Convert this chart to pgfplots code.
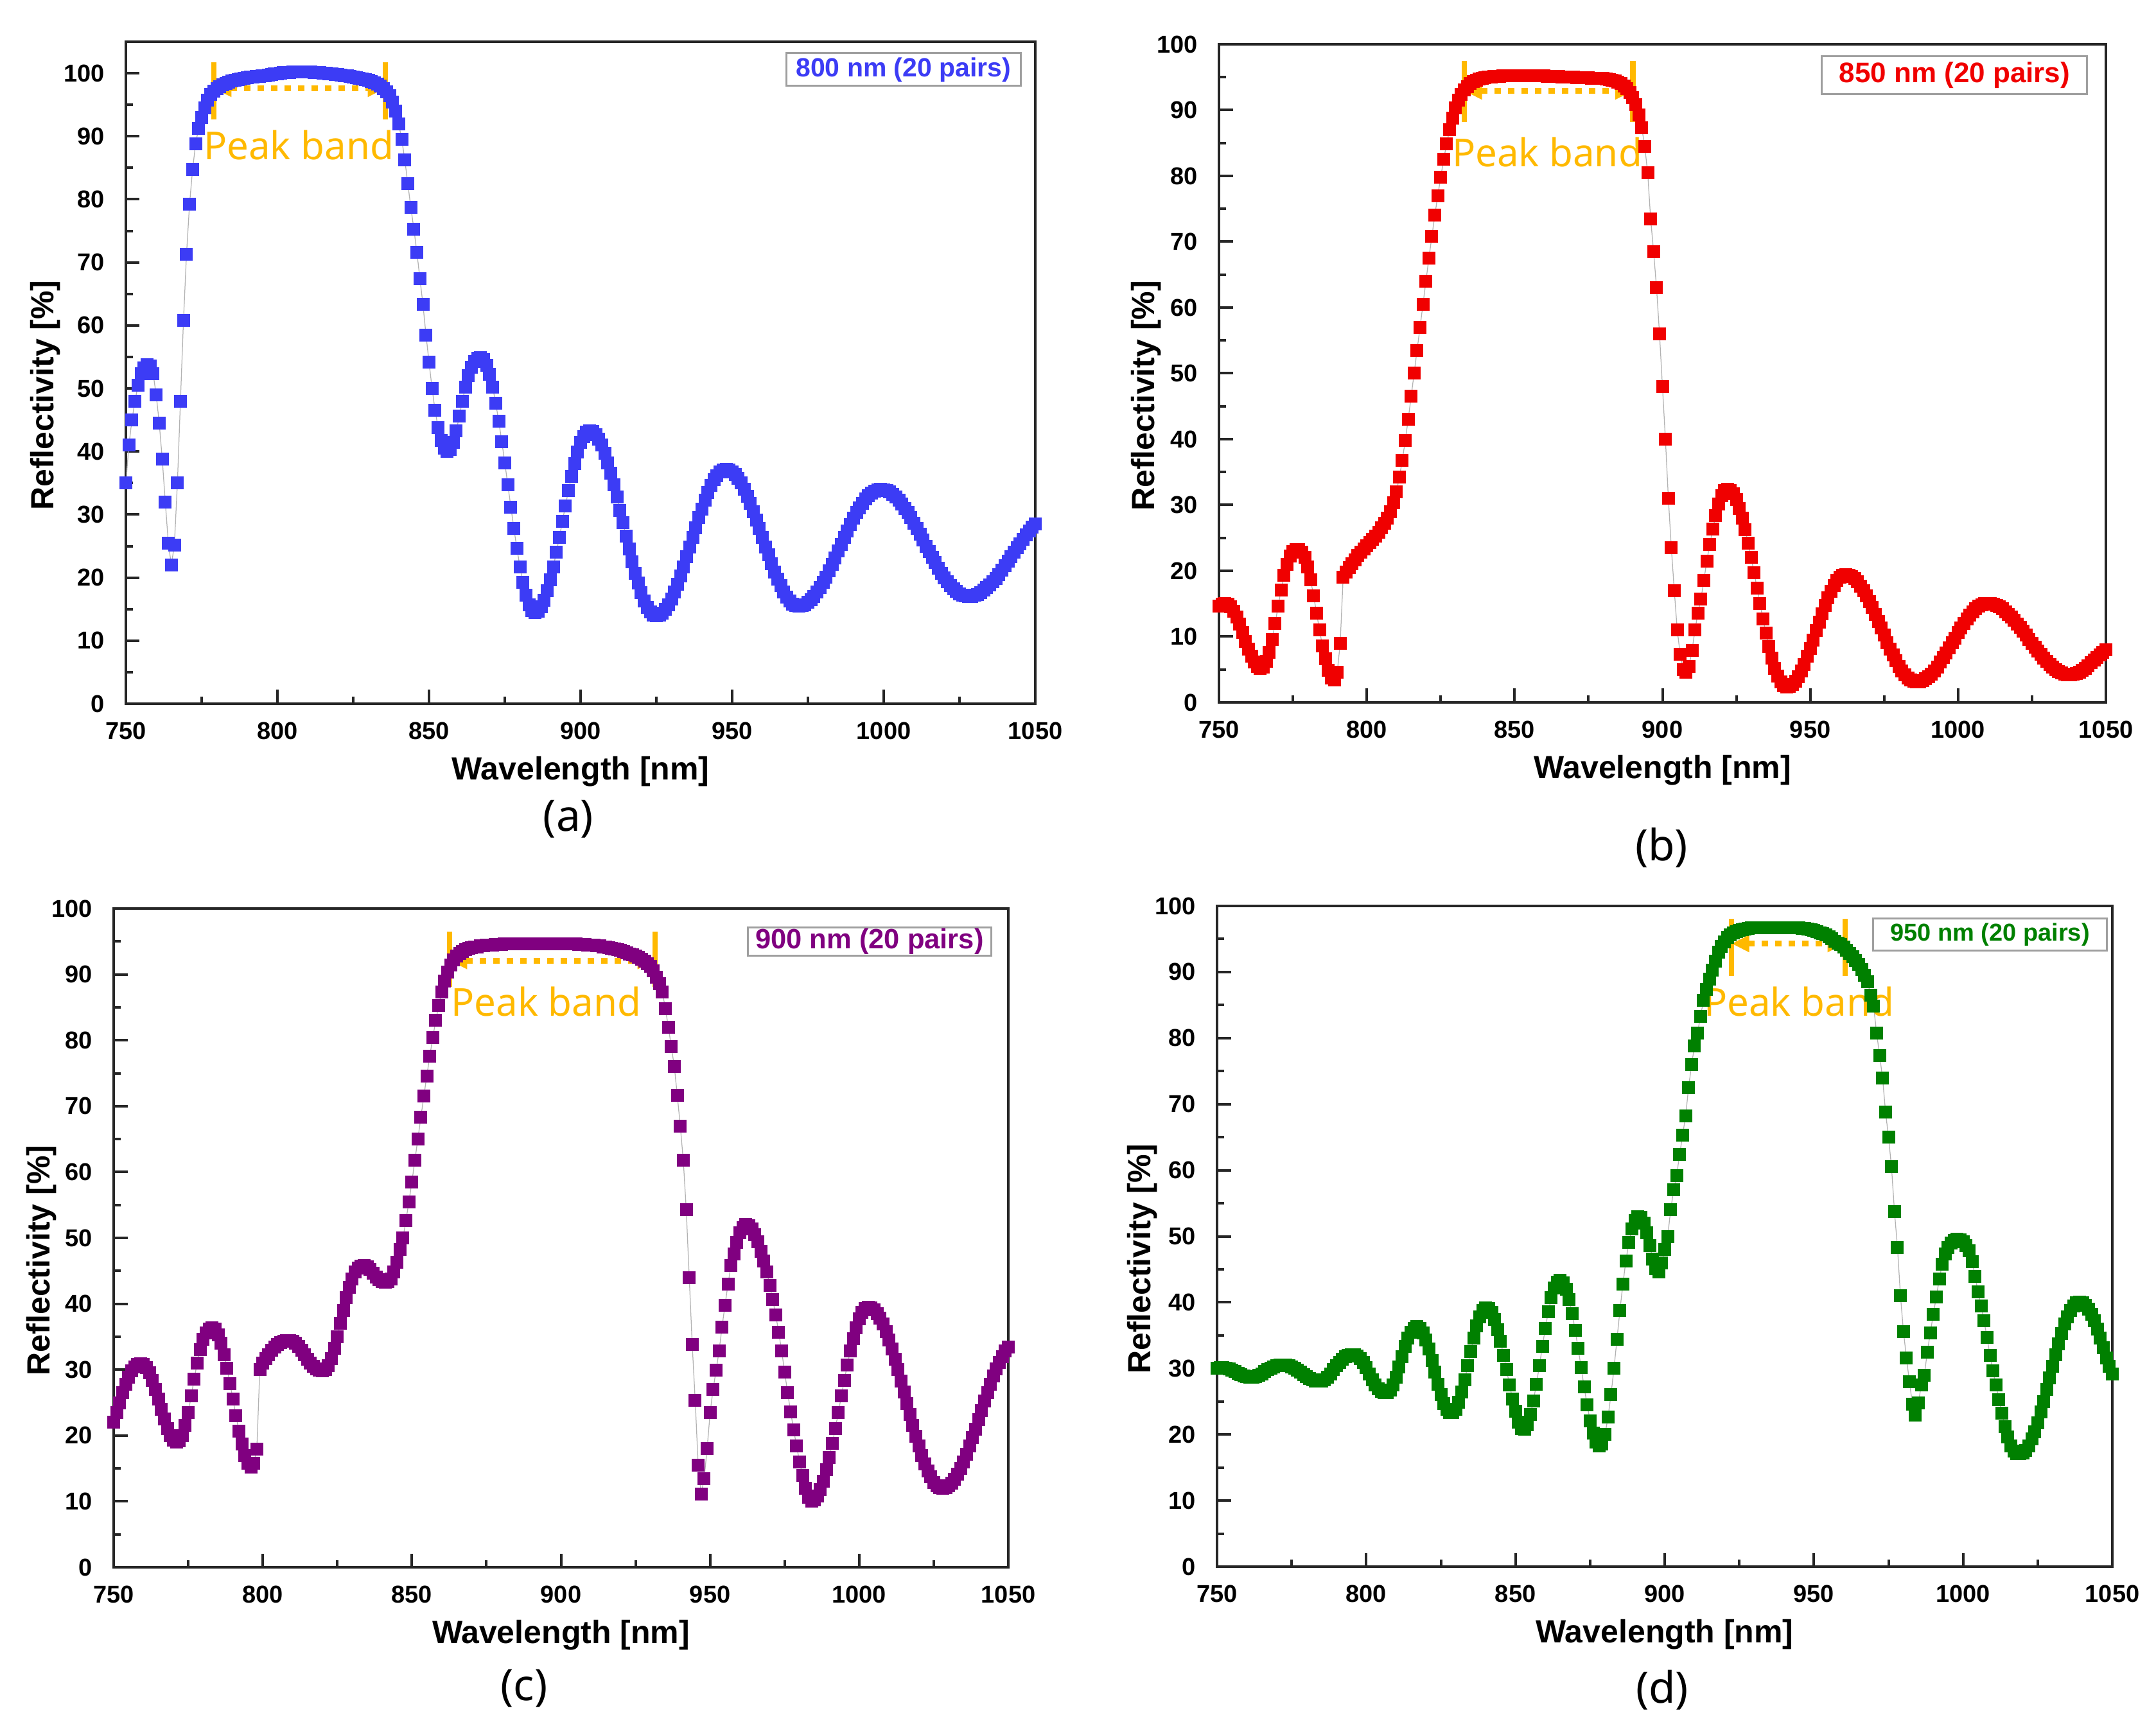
\documentclass[border=0pt]{standalone}
\usepackage{fontspec}
\setmainfont{Liberation Sans}
\newfontfamily\notosans{Noto Sans}
\usepackage{pgfplots}
\usepackage{pgfplotstable}
\pgfplotsset{compat=1.18}
\usetikzlibrary{arrows.meta}

\definecolor{cA}{RGB}{60,60,245}
\definecolor{cB}{RGB}{240,0,0}
\definecolor{cC}{RGB}{128,0,128}
\definecolor{cD}{RGB}{0,128,0}
\definecolor{peak}{RGB}{255,185,0}

% 800 nm (20 pairs)
\pgfplotstableread[row sep=\\]{x y\\
750 35.0\\751 41.0\\752 45.0\\753 48.0\\754 50.5\\755 52.3\\756 53.3\\757 53.8\\758 53.6\\759 52.3\\
760 49.0\\761 44.5\\762 38.8\\763 32.0\\764 25.5\\765 22.0\\766 25.2\\767 35.0\\768 48.0\\769 60.8\\
770 71.3\\771 79.2\\772 84.7\\773 88.8\\774 91.3\\775 93.0\\776 94.5\\777 95.7\\778 96.6\\779 97.2\\
780 97.6\\781 97.9\\782 98.2\\783 98.4\\784 98.6\\785 98.8\\786 98.9\\787 99.0\\788 99.1\\789 99.2\\
790 99.3\\791 99.4\\792 99.4\\793 99.5\\794 99.5\\795 99.6\\796 99.6\\797 99.7\\798 99.8\\799 99.9\\
800 99.9\\801 100.0\\802 100.1\\803 100.1\\804 100.1\\805 100.2\\806 100.2\\807 100.2\\808 100.2\\809 100.2\\
810 100.2\\811 100.2\\812 100.1\\813 100.1\\814 100.1\\815 100.0\\816 100.0\\817 99.9\\818 99.9\\819 99.8\\
820 99.8\\821 99.7\\822 99.6\\823 99.6\\824 99.5\\825 99.4\\826 99.3\\827 99.2\\828 99.1\\829 99.0\\
830 98.9\\831 98.7\\832 98.5\\833 98.3\\834 98.0\\835 97.6\\836 97.1\\837 96.4\\838 95.4\\839 94.0\\
840 92.0\\841 89.5\\842 86.3\\843 82.5\\844 78.7\\845 75.3\\846 71.6\\847 67.4\\848 63.3\\849 58.5\\
850 54.2\\851 50.0\\852 46.5\\853 43.8\\854 41.8\\855 40.5\\856 40.0\\857 40.3\\858 41.5\\859 43.3\\
860 45.6\\861 48.0\\862 50.2\\863 52.0\\864 53.4\\865 54.3\\866 54.8\\867 54.9\\868 54.6\\869 53.7\\
870 52.2\\871 50.2\\872 47.7\\873 44.8\\874 41.6\\875 38.2\\876 34.7\\877 31.2\\878 27.8\\879 24.6\\
880 21.7\\881 19.2\\882 17.2\\883 15.7\\884 14.8\\885 14.5\\886 14.7\\887 15.4\\888 16.4\\889 17.9\\
890 19.7\\891 21.7\\892 24.0\\893 26.4\\894 28.9\\895 31.4\\896 33.8\\897 36.1\\898 38.1\\899 39.9\\
900 41.4\\901 42.4\\902 43.1\\903 43.3\\904 43.2\\905 42.7\\906 42.0\\907 41.0\\908 39.7\\909 38.2\\
910 36.6\\911 34.7\\912 32.8\\913 30.7\\914 28.7\\915 26.6\\916 24.5\\917 22.5\\918 20.7\\919 19.1\\
920 17.6\\921 16.3\\922 15.3\\923 14.6\\924 14.1\\925 14.0\\926 14.1\\927 14.4\\928 15.0\\929 15.7\\
930 16.6\\931 17.7\\932 18.9\\933 20.3\\934 21.7\\935 23.3\\936 24.8\\937 26.4\\938 27.9\\939 29.5\\
940 30.9\\941 32.3\\942 33.5\\943 34.6\\944 35.5\\945 36.2\\946 36.8\\947 37.1\\948 37.2\\949 37.1\\
950 36.8\\951 36.4\\952 35.7\\953 35.0\\954 34.0\\955 32.9\\956 31.8\\957 30.5\\958 29.1\\959 27.8\\
960 26.4\\961 24.9\\962 23.6\\963 22.2\\964 20.9\\965 19.8\\966 18.7\\967 17.7\\968 16.9\\969 16.3\\
970 15.8\\971 15.6\\972 15.5\\973 15.6\\974 15.7\\975 16.1\\976 16.5\\977 17.0\\978 17.7\\979 18.4\\
980 19.2\\981 20.1\\982 21.1\\983 22.1\\984 23.1\\985 24.2\\986 25.3\\987 26.4\\988 27.4\\989 28.4\\
990 29.4\\991 30.3\\992 31.1\\993 31.8\\994 32.5\\995 33.0\\996 33.4\\997 33.7\\998 33.9\\999 34.0\\
1000 33.9\\1001 33.8\\1002 33.6\\1003 33.2\\1004 32.8\\1005 32.3\\1006 31.7\\1007 31.0\\1008 30.3\\1009 29.5\\
1010 28.6\\1011 27.8\\1012 26.9\\1013 26.0\\1014 25.0\\1015 24.1\\1016 23.2\\1017 22.4\\1018 21.5\\1019 20.7\\
1020 20.0\\1021 19.3\\1022 18.7\\1023 18.2\\1024 17.8\\1025 17.4\\1026 17.2\\1027 17.1\\1028 17.0\\1029 17.0\\
1030 17.2\\1031 17.3\\1032 17.6\\1033 18.0\\1034 18.4\\1035 18.8\\1036 19.3\\1037 19.9\\1038 20.5\\1039 21.2\\
1040 21.9\\1041 22.6\\1042 23.3\\1043 24.0\\1044 24.7\\1045 25.4\\1046 26.1\\1047 26.8\\1048 27.4\\1049 28.0\\
1050 28.5\\
}\dataA

% 850 nm (20 pairs)
\pgfplotstableread[row sep=\\]{x y\\
750 14.6\\751 14.9\\752 15.0\\753 14.9\\754 14.5\\755 13.9\\756 13.0\\757 11.9\\758 10.6\\759 9.3\\
760 8.1\\761 7.0\\762 6.1\\763 5.5\\764 5.2\\765 5.4\\766 6.2\\767 7.6\\768 9.6\\769 12.0\\
770 14.6\\771 17.1\\772 19.3\\773 21.0\\774 22.2\\775 22.9\\776 23.2\\777 23.2\\778 22.8\\779 22.0\\
780 20.6\\781 18.6\\782 16.2\\783 13.6\\784 11.0\\785 8.6\\786 6.6\\787 4.9\\788 3.7\\789 3.4\\
790 4.6\\791 9.0\\792 19.0\\793 19.8\\794 20.5\\795 21.1\\796 21.7\\797 22.3\\798 22.8\\799 23.3\\
800 23.8\\801 24.3\\802 24.8\\803 25.3\\804 25.9\\805 26.5\\806 27.2\\807 28.0\\808 29.0\\809 30.3\\
810 32.0\\811 34.2\\812 36.8\\813 39.8\\814 43.0\\815 46.5\\816 50.0\\817 53.5\\818 57.0\\819 60.5\\
820 64.0\\821 67.5\\822 70.8\\823 74.0\\824 77.0\\825 79.8\\826 82.5\\827 84.9\\828 87.0\\829 88.8\\
830 90.3\\831 91.5\\832 92.4\\833 93.1\\834 93.6\\835 94.0\\836 94.3\\837 94.5\\838 94.7\\839 94.8\\
840 94.9\\841 95.0\\842 95.0\\843 95.1\\844 95.1\\845 95.1\\846 95.2\\847 95.2\\848 95.2\\849 95.2\\
850 95.2\\851 95.2\\852 95.2\\853 95.2\\854 95.2\\855 95.2\\856 95.2\\857 95.2\\858 95.2\\859 95.2\\
860 95.2\\861 95.1\\862 95.1\\863 95.1\\864 95.1\\865 95.1\\866 95.0\\867 95.0\\868 95.0\\869 95.0\\
870 95.0\\871 94.9\\872 94.9\\873 94.9\\874 94.9\\875 94.9\\876 94.8\\877 94.8\\878 94.8\\879 94.8\\
880 94.8\\881 94.7\\882 94.6\\883 94.5\\884 94.4\\885 94.2\\886 94.0\\887 93.7\\888 93.3\\889 92.7\\
890 91.9\\891 90.8\\892 89.3\\893 87.3\\894 84.5\\895 80.5\\896 73.5\\897 68.5\\898 63.0\\899 56.0\\
900 48.0\\901 40.0\\902 31.0\\903 23.5\\904 17.0\\905 11.0\\906 7.3\\907 5.0\\908 4.6\\909 5.5\\
910 7.9\\911 11.0\\912 13.6\\913 15.7\\914 18.5\\915 21.5\\916 24.0\\917 26.3\\918 28.4\\919 30.1\\
920 31.4\\921 32.2\\922 32.4\\923 32.2\\924 31.7\\925 30.8\\926 29.5\\927 28.0\\928 26.2\\929 24.2\\
930 22.0\\931 19.7\\932 17.4\\933 15.0\\934 12.7\\935 10.5\\936 8.5\\937 6.7\\938 5.2\\939 4.0\\
940 3.1\\941 2.5\\942 2.3\\943 2.4\\944 2.7\\945 3.2\\946 3.9\\947 4.8\\948 5.8\\949 7.0\\
950 8.2\\951 9.5\\952 10.9\\953 12.2\\954 13.5\\955 14.7\\956 15.9\\957 16.9\\958 17.8\\959 18.5\\
960 19.0\\961 19.3\\962 19.4\\963 19.3\\964 19.1\\965 18.8\\966 18.3\\967 17.7\\968 17.0\\969 16.2\\
970 15.3\\971 14.4\\972 13.4\\973 12.3\\974 11.3\\975 10.2\\976 9.1\\977 8.1\\978 7.2\\979 6.3\\
980 5.5\\981 4.8\\982 4.2\\983 3.7\\984 3.4\\985 3.2\\986 3.1\\987 3.1\\988 3.3\\989 3.6\\
990 3.9\\991 4.3\\992 4.8\\993 5.4\\994 6.1\\995 6.8\\996 7.5\\997 8.3\\998 9.1\\999 9.8\\
1000 10.6\\1001 11.3\\1002 12.0\\1003 12.7\\1004 13.3\\1005 13.8\\1006 14.2\\1007 14.6\\1008 14.8\\1009 15.0\\
1010 15.0\\1011 15.0\\1012 14.9\\1013 14.7\\1014 14.5\\1015 14.2\\1016 13.8\\1017 13.4\\1018 13.0\\1019 12.5\\
1020 11.9\\1021 11.4\\1022 10.8\\1023 10.2\\1024 9.6\\1025 9.0\\1026 8.4\\1027 7.8\\1028 7.3\\1029 6.7\\
1030 6.2\\1031 5.8\\1032 5.4\\1033 5.0\\1034 4.7\\1035 4.5\\1036 4.3\\1037 4.2\\1038 4.2\\1039 4.3\\
1040 4.4\\1041 4.6\\1042 4.9\\1043 5.2\\1044 5.6\\1045 6.0\\1046 6.4\\1047 6.8\\1048 7.2\\1049 7.6\\
1050 8.0\\
}\dataB

% 900 nm (20 pairs)
\pgfplotstableread[row sep=\\]{x y\\
750 22.0\\751 23.5\\752 25.0\\753 26.5\\754 27.8\\755 28.9\\756 29.8\\757 30.4\\758 30.8\\759 30.9\\
760 30.8\\761 30.3\\762 29.5\\763 28.4\\764 27.0\\765 25.5\\766 24.0\\767 22.5\\768 21.1\\769 20.0\\
770 19.3\\771 19.0\\772 19.2\\773 20.0\\774 21.5\\775 23.5\\776 26.0\\777 28.6\\778 31.0\\779 33.0\\
780 34.6\\781 35.6\\782 36.2\\783 36.4\\784 36.2\\785 35.3\\786 34.0\\787 32.3\\788 30.2\\789 27.9\\
790 25.5\\791 23.0\\792 20.7\\793 18.7\\794 17.0\\795 15.8\\796 15.2\\797 15.8\\798 17.9\\799 30.0\\
800 31.0\\801 31.7\\802 32.3\\803 32.9\\804 33.4\\805 33.8\\806 34.1\\807 34.3\\808 34.4\\809 34.4\\
810 34.3\\811 34.0\\812 33.5\\813 32.9\\814 32.3\\815 31.6\\816 31.0\\817 30.5\\818 30.1\\819 29.9\\
820 29.8\\821 30.0\\822 30.6\\823 31.7\\824 33.2\\825 35.0\\826 37.0\\827 39.0\\828 40.9\\829 42.5\\
830 43.8\\831 44.8\\832 45.4\\833 45.7\\834 45.8\\835 45.6\\836 45.2\\837 44.6\\838 44.1\\839 43.7\\
840 43.4\\841 43.3\\842 43.4\\843 43.8\\844 44.8\\845 46.3\\846 48.2\\847 50.0\\848 52.6\\849 55.5\\
850 58.5\\851 61.8\\852 65.0\\853 68.3\\854 71.5\\855 74.6\\856 77.6\\857 80.4\\858 83.0\\859 85.3\\
860 87.3\\861 89.0\\862 90.4\\863 91.4\\864 92.2\\865 92.8\\866 93.2\\867 93.5\\868 93.8\\869 94.0\\
870 94.1\\871 94.2\\872 94.2\\873 94.3\\874 94.3\\875 94.4\\876 94.4\\877 94.4\\878 94.5\\879 94.5\\
880 94.5\\881 94.6\\882 94.6\\883 94.6\\884 94.6\\885 94.6\\886 94.6\\887 94.6\\888 94.6\\889 94.6\\
890 94.6\\891 94.6\\892 94.6\\893 94.6\\894 94.6\\895 94.6\\896 94.6\\897 94.6\\898 94.6\\899 94.6\\
900 94.6\\901 94.6\\902 94.6\\903 94.6\\904 94.6\\905 94.6\\906 94.5\\907 94.5\\908 94.5\\909 94.4\\
910 94.4\\911 94.4\\912 94.3\\913 94.3\\914 94.2\\915 94.2\\916 94.1\\917 94.0\\918 93.9\\919 93.8\\
920 93.7\\921 93.5\\922 93.3\\923 93.1\\924 93.0\\925 92.8\\926 92.6\\927 92.3\\928 92.0\\929 91.6\\
930 91.2\\931 90.5\\932 89.6\\933 88.6\\934 87.3\\935 84.8\\936 82.0\\937 79.0\\938 76.0\\939 71.6\\
940 67.0\\941 61.8\\942 54.3\\943 44.0\\944 33.8\\945 25.3\\946 15.5\\947 11.1\\948 13.5\\949 18.0\\
950 23.5\\951 27.0\\952 29.9\\953 32.8\\954 36.5\\955 39.8\\956 43.0\\957 45.8\\958 47.6\\959 49.3\\
960 50.8\\961 51.6\\962 52.0\\963 51.9\\964 51.4\\965 50.5\\966 49.4\\967 48.0\\968 46.5\\969 44.8\\
970 42.8\\971 40.6\\972 38.3\\973 35.7\\974 32.8\\975 29.6\\976 26.5\\977 23.6\\978 20.9\\979 18.4\\
980 16.0\\981 13.9\\982 12.0\\983 10.6\\984 10.0\\985 10.2\\986 10.8\\987 11.8\\988 13.1\\989 14.8\\
990 16.7\\991 18.8\\992 21.1\\993 23.5\\994 26.0\\995 28.4\\996 30.7\\997 32.8\\998 34.7\\999 36.4\\
1000 37.7\\1001 38.7\\1002 39.3\\1003 39.5\\1004 39.4\\1005 39.1\\1006 38.5\\1007 37.8\\1008 36.9\\1009 35.8\\
1010 34.5\\1011 33.1\\1012 31.6\\1013 30.0\\1014 28.3\\1015 26.6\\1016 24.9\\1017 23.2\\1018 21.5\\1019 19.9\\
1020 18.4\\1021 17.0\\1022 15.7\\1023 14.6\\1024 13.7\\1025 12.9\\1026 12.4\\1027 12.1\\1028 12.0\\1029 12.1\\
1030 12.4\\1031 12.8\\1032 13.4\\1033 14.1\\1034 15.0\\1035 16.0\\1036 17.2\\1037 18.4\\1038 19.7\\1039 21.0\\
1040 22.4\\1041 23.8\\1042 25.2\\1043 26.5\\1044 27.8\\1045 29.0\\1046 30.1\\1047 31.1\\1048 32.0\\1049 32.8\\
1050 33.4\\
}\dataC

% 950 nm (20 pairs)
\pgfplotstableread[row sep=\\]{x y\\
750 30.0\\751 30.1\\752 30.1\\753 30.0\\754 29.9\\755 29.7\\756 29.5\\757 29.3\\758 29.1\\759 28.9\\
760 28.8\\761 28.7\\762 28.7\\763 28.8\\764 29.0\\765 29.2\\766 29.5\\767 29.8\\768 30.0\\769 30.2\\
770 30.4\\771 30.5\\772 30.5\\773 30.5\\774 30.4\\775 30.2\\776 30.0\\777 29.7\\778 29.4\\779 29.1\\
780 28.8\\781 28.5\\782 28.3\\783 28.1\\784 28.1\\785 28.1\\786 28.3\\787 28.7\\788 29.2\\789 29.8\\
790 30.4\\791 30.9\\792 31.4\\793 31.8\\794 32.0\\795 32.1\\796 32.1\\797 31.9\\798 31.5\\799 30.9\\
800 30.1\\801 29.2\\802 28.3\\803 27.5\\804 26.9\\805 26.5\\806 26.3\\807 26.3\\808 26.7\\809 27.5\\
810 28.7\\811 30.2\\812 31.8\\813 33.3\\814 34.6\\815 35.5\\816 36.1\\817 36.3\\818 36.1\\819 35.4\\
820 34.3\\821 32.9\\822 31.2\\823 29.4\\824 27.6\\825 26.0\\826 24.7\\827 23.8\\828 23.3\\829 23.3\\
830 23.8\\831 24.9\\832 26.4\\833 28.3\\834 30.4\\835 32.6\\836 34.6\\837 36.4\\838 37.8\\839 38.8\\
840 39.2\\841 39.1\\842 38.5\\843 37.4\\844 35.9\\845 34.1\\846 32.0\\847 29.8\\848 27.5\\849 25.4\\
850 23.5\\851 21.9\\852 20.9\\853 20.8\\854 21.5\\855 23.0\\856 25.1\\857 27.6\\858 30.4\\859 33.3\\
860 36.1\\861 38.6\\862 40.7\\863 42.2\\864 43.1\\865 43.3\\866 43.0\\867 42.0\\868 40.4\\869 38.3\\
870 35.8\\871 33.0\\872 30.1\\873 27.2\\874 24.5\\875 22.1\\876 20.2\\877 18.9\\878 18.3\\879 18.6\\
880 20.0\\881 22.6\\882 26.0\\883 30.0\\884 34.4\\885 38.8\\886 42.8\\887 46.3\\888 49.1\\889 51.1\\
890 52.4\\891 53.0\\892 52.9\\893 52.0\\894 50.5\\895 48.6\\896 46.6\\897 45.1\\898 44.6\\899 46.0\\
900 48.0\\901 50.0\\902 54.0\\903 57.0\\904 59.2\\905 62.4\\906 65.3\\907 68.2\\908 72.5\\909 76.0\\
910 78.8\\911 80.8\\912 83.3\\913 85.7\\914 87.4\\915 88.9\\916 90.3\\917 91.6\\918 93.0\\919 93.9\\
920 94.6\\921 95.2\\922 95.6\\923 95.9\\924 96.1\\925 96.3\\926 96.4\\927 96.5\\928 96.6\\929 96.7\\
930 96.7\\931 96.7\\932 96.7\\933 96.7\\934 96.7\\935 96.7\\936 96.7\\937 96.7\\938 96.7\\939 96.7\\
940 96.7\\941 96.7\\942 96.7\\943 96.7\\944 96.7\\945 96.7\\946 96.6\\947 96.6\\948 96.5\\949 96.4\\
950 96.3\\951 96.1\\952 95.9\\953 95.8\\954 95.6\\955 95.3\\956 95.0\\957 94.7\\958 94.4\\959 94.2\\
960 93.8\\961 93.3\\962 92.8\\963 92.3\\964 91.7\\965 91.2\\966 90.4\\967 89.5\\968 88.5\\969 86.5\\
970 84.8\\971 80.8\\972 77.4\\973 74.0\\974 68.8\\975 65.0\\976 60.5\\977 53.7\\978 48.3\\979 41.0\\
980 35.6\\981 31.6\\982 28.0\\983 24.6\\984 22.9\\985 24.8\\986 27.5\\987 29.0\\988 32.5\\989 35.4\\
990 38.2\\991 40.8\\992 43.5\\993 45.8\\994 47.3\\995 48.3\\996 49.0\\997 49.4\\998 49.6\\999 49.5\\
1000 49.2\\1001 48.6\\1002 47.8\\1003 46.2\\1004 43.9\\1005 41.6\\1006 39.5\\1007 37.2\\1008 34.7\\1009 32.0\\
1010 29.6\\1011 27.5\\1012 25.3\\1013 23.2\\1014 21.2\\1015 19.6\\1016 18.3\\1017 17.5\\1018 17.1\\1019 17.1\\
1020 17.2\\1021 17.6\\1022 18.3\\1023 19.3\\1024 20.4\\1025 21.8\\1026 23.4\\1027 25.0\\1028 26.8\\1029 28.6\\
1030 30.3\\1031 32.1\\1032 33.7\\1033 35.3\\1034 36.7\\1035 37.8\\1036 38.8\\1037 39.5\\1038 39.9\\1039 40.0\\
1040 39.9\\1041 39.6\\1042 39.0\\1043 38.2\\1044 37.2\\1045 36.0\\1046 34.6\\1047 33.1\\1048 31.6\\1049 30.3\\
1050 29.2\\
}\dataD

\pgfplotsset{
  refl/.style={
    scale only axis, anchor=south west,
    xmin=750, xmax=1050, ymin=0, ymax=100,
    xtick={750,800,...,1050}, ytick={0,10,...,100},
    minor x tick num=1, minor y tick num=1,
    tick align=inside, tick pos=left,
    major tick length=4.3pt, minor tick length=2.2pt,
    tick style={black!85, line width=0.8pt},
    axis line style={black!85, line width=0.8pt},
    /pgf/number format/assume math mode=true,
    /pgf/number format/1000 sep={},
    tick label style={font=\bfseries\fontsize{7.6}{9}\selectfont},
    yticklabel style={xshift=-3.1pt},
    xticklabel style={yshift=-2.3pt},
    xlabel={Wavelength [nm]},
    ylabel={Reflectivity [\%]},
    label style={font=\bfseries\fontsize{10}{12}\selectfont},
    xlabel style={at={(axis description cs:0.5,0)}, anchor=north, inner sep=0pt, yshift=-16.2pt},
  },
  curve/.style={draw=gray!60, line width=0.25pt, mark=square*, mark size=1.9pt,
    mark options={draw=#1, fill=#1, line width=0.2pt}},
}
\tikzset{
  legbox/.style={draw=gray!75, line width=0.6pt, fill=white, anchor=north east, inner sep=0pt},
}
% bars at #1 and #2 from #3 to #4, arrow at #5, text centred at (#6,#7)
\newcommand{\peakband}[7]{%
  \draw[peak, line width=1.7pt] (axis cs:#1,#3) -- (axis cs:#1,#4);
  \draw[peak, line width=1.7pt] (axis cs:#2,#3) -- (axis cs:#2,#4);
  \draw[peak, line width=1.8pt, dash pattern=on 2pt off 2.2pt,
    {Triangle[length=5.5pt,width=5pt]}-{Triangle[length=5.5pt,width=5pt]}]
    (axis cs:#1,#5) -- (axis cs:#2,#5);
  \node[text=peak, font=\notosans\fontsize{12}{14}\selectfont, inner sep=0pt]
    at (axis cs:#6,#7) {Peak band};
}

\begin{document}
\begin{tikzpicture}
\useasboundingbox (0,0) rectangle (671.4pt,539pt);

% (a)
\begin{axis}[refl, at={(39.2pt,319.8pt)}, width=283.2pt, height=206.2pt, ymax=105,
  ylabel style={at={(axis description cs:-0.0886,0.466)}, anchor=center}]
\addplot[curve=cA] table {\dataA};
\peakband{779}{835.6}{92.7}{101.7}{97.6}{807}{88.6}
\node[legbox, minimum width=73pt, minimum height=10.2pt, text=cA,
  font=\bfseries\fontsize{8.2}{9}\selectfont] at (rel axis cs:0.985,0.984) {800 nm (20 pairs)};
\end{axis}

% (b)
\begin{axis}[refl, at={(379.6pt,320.2pt)}, width=276.2pt, height=205pt,
  ylabel style={at={(axis description cs:-0.0818,0.466)}, anchor=center}]
\addplot[curve=cB] table {\dataB};
\peakband{833}{890}{88.2}{97.5}{92.9}{861}{83.6}
\node[legbox, minimum width=82.6pt, minimum height=11.8pt, text=cB,
  font=\bfseries\fontsize{8.8}{10}\selectfont] at (rel axis cs:0.980,0.983) {850 nm (20 pairs)};
\end{axis}

% (c)
\begin{axis}[refl, at={(35.4pt,50.8pt)}, width=278.6pt, height=205.2pt,
  ylabel style={at={(axis description cs:-0.0804,0.466)}, anchor=center}]
\addplot[curve=cC] table {\dataC};
\peakband{862.6}{931.6}{88.1}{96.5}{92.1}{895}{85.9}
\node[legbox, minimum width=75.8pt, minimum height=8.8pt, text=cC,
  font=\bfseries\fontsize{8.7}{10}\selectfont] at (rel axis cs:0.982,0.973) {900 nm (20 pairs)};
\end{axis}

% (d)
\begin{axis}[refl, at={(379pt,51pt)}, width=278.8pt, height=205.8pt,
  ylabel style={at={(axis description cs:-0.0832,0.466)}, anchor=center}]
\addplot[curve=cD] table {\dataD};
\peakband{922.4}{960.5}{89.4}{98.1}{94.3}{945}{85.5}
\node[legbox, minimum width=72.8pt, minimum height=10pt, text=cD,
  font=\bfseries\fontsize{7.6}{9}\selectfont] at (rel axis cs:0.995,0.9825) {950 nm (20 pairs)};
\end{axis}

\node[font=\notosans\fontsize{13.5}{16}\selectfont] at (177pt,283.8pt) {(a)};
\node[font=\notosans\fontsize{13.5}{16}\selectfont] at (517.4pt,275pt) {(b)};
\node[font=\notosans\fontsize{13.5}{16}\selectfont] at (163.2pt,13pt) {(c)};
\node[font=\notosans\fontsize{13.5}{16}\selectfont] at (517.6pt,12.6pt) {(d)};
\end{tikzpicture}
\end{document}
